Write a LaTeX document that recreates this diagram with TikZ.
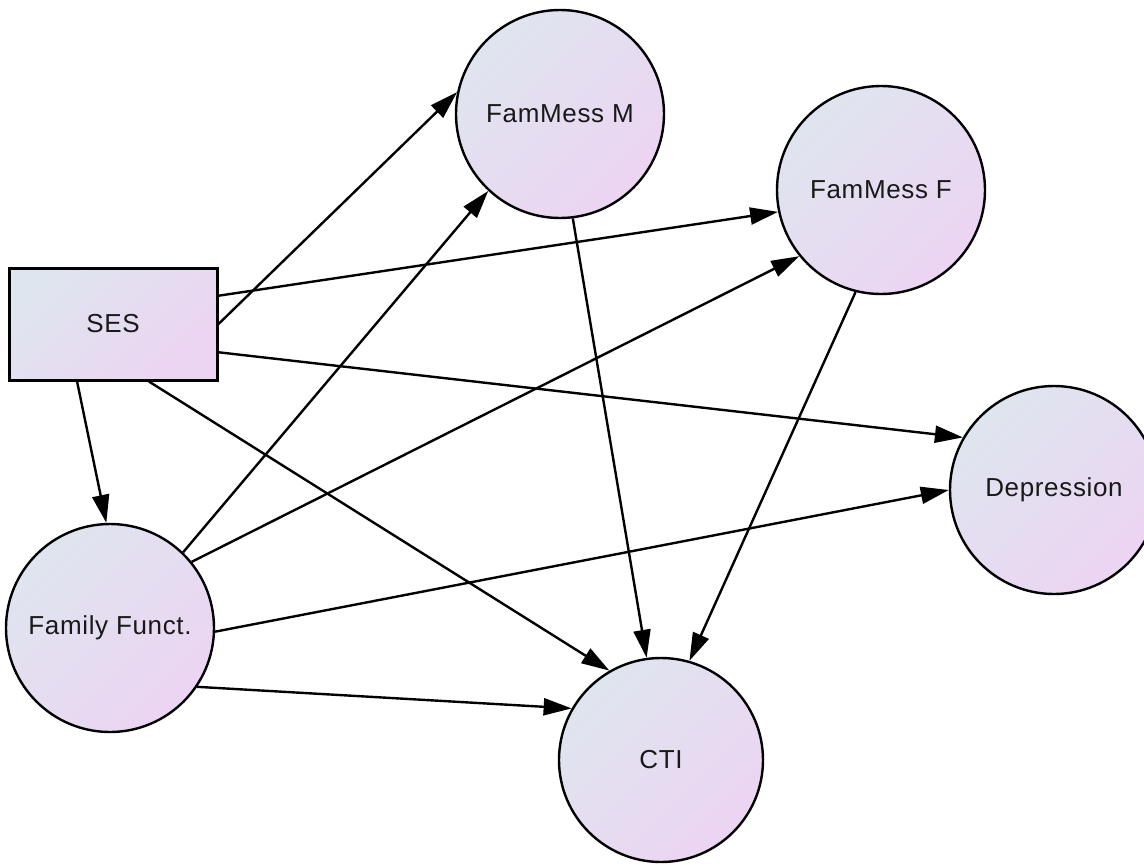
\documentclass[tikz,border=0pt]{standalone}
\usepackage{fontspec}
\setmainfont{Liberation Sans}[LetterSpace=2.5]
\usetikzlibrary{arrows.meta}
\definecolor{fillA}{RGB}{223,229,238}
\definecolor{fillB}{RGB}{236,212,243}

\begin{document}
\begin{tikzpicture}[x=1pt,y=-1pt,
  every node/.style={font=\fontsize{26}{30}\selectfont, text=black!90},
  latent/.style={circle, draw=black, line width=2.4pt, inner sep=0pt,
    minimum size=208pt, top color=fillA, bottom color=fillB, shading angle=45},
  observed/.style={rectangle, draw=black, line width=3pt, inner sep=0pt,
    minimum width=208pt, minimum height=112pt,
    top color=fillA, bottom color=fillB, shading angle=45},
  effect/.style={line width=2.4pt, -{Triangle[length=28pt,width=17pt]}}]
  \useasboundingbox (0,0) rectangle (1144,865);

  % variables
  \node[observed] (ses) at (113,324) {SES};
  \node[latent]   (fmm) at (560,114) {FamMess M};
  \node[latent]   (fmf) at (881,190) {FamMess F};
  \node[latent]   (dep) at (1054,490) {Depression};
  \node[latent]   (ff)  at (110,628) {Family Funct.};
  \node[latent, minimum size=204pt] (cti) at (661,760) {CTI};

  % paths from SES
  \draw[effect] (ses.east)  -- (fmm.168);
  \draw[effect] (ses.15.6)  -- (fmf.192);
  \draw[effect] (ses.-15.6) -- (dep.150);
  \draw[effect] (ses.-122)  -- (ff.92);
  \draw[effect] (ses.-58)   -- (cti.120);

  % paths from family functioning
  \draw[effect] (ff.46.5)  -- (fmm.227);
  \draw[effect] (ff.39.7)  -- (fmf.219);
  \draw[effect] (ff.-2)    -- (dep.180);
  \draw[effect] (ff.-34.8) -- (cti.150);

  % paths from family messages
  \draw[effect] (fmm.-83)  -- (cti.98);
  \draw[effect] (fmf.-104) -- (cti.74);
\end{tikzpicture}
\end{document}
